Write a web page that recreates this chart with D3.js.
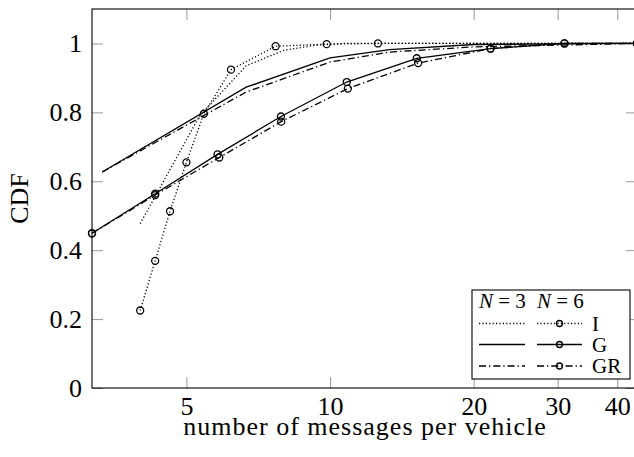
<!DOCTYPE html>
<html>
<head>
<meta charset="utf-8">
<script src="https://cdn.jsdelivr.net/npm/d3@7"></script>
<style>
  body { margin: 0; background: #fff; }
  svg text { font-family: "Liberation Serif", "Times New Roman", serif; fill: #000; }
</style>
</head>
<body>
<div id="vis"></div>
<script>
// ticks
const xTicks = [5, 10, 20, 30, 40];
const yTicks = [0, 0.2, 0.4, 0.6, 0.8, 1];

// N = 3, no markers
const xI3 = [4.0, 5.33, 6.67, 8.0, 9.33, 10.67, 44];
const yI3 = [0.477, 0.79, 0.935, 0.98, 0.995, 1.0, 1.0];
const xG3 = [3.33, 6.67, 10, 13.33, 20, 44];
const yG3 = [0.627, 0.873, 0.958, 0.982, 0.997, 1.0];
const xGR3 = [3.33, 6.67, 10, 13.33, 20, 44];
const yGR3 = [0.627, 0.859, 0.946, 0.975, 0.99, 1.0];

// N = 6, circle markers
const xI6 = [4.0, 4.3, 4.62, 5.0, 5.44, 6.2, 7.69, 9.84, 12.6, 44];
const yI6 = [0.225, 0.369, 0.513, 0.655, 0.796, 0.924, 0.992, 0.998, 1.0, 1.0];
const xG6 = [3.17, 4.3, 5.81, 7.89, 10.84, 15.2, 21.7, 31, 44];
const yG6 = [0.449, 0.564, 0.678, 0.788, 0.888, 0.957, 0.985, 1.0, 1.0];
const xGR6 = [3.17, 4.3, 5.86, 7.9, 10.9, 15.3, 21.7, 31, 44];
const yGR6 = [0.449, 0.56, 0.669, 0.773, 0.869, 0.943, 0.985, 1.0, 1.0];

const legendNames = ["I", "G", "GR"];

const width = 634;
const height = 457;

const svg = d3.select("#vis")
    .append('svg')
    .attr("width", width)
    .attr("height", height);

const pLeft = 92, pRight = 637, pTop = 9, pBottom = 388;

let x = d3.scaleLog()
    .domain([3.17, 44])
    .range([pLeft, pRight]);

let y = d3.scaleLinear()
    .domain([0, 1.1])
    .range([pBottom, pTop]);

// dash styles per method
const dashes = {
    "I": "1.2,2.2",
    "G": null,
    "GR": "7,3,1.3,3"
};

// tick marks (inside, on all four sides)
const tickColor = "#999";
const tickLen = 11;

const axB = svg.append('g')
    .attr("transform", `translate(0,${pBottom})`)
    .call(d3.axisBottom(x).tickValues(xTicks).tickFormat(d3.format("d")).tickSize(-tickLen).tickPadding(8.5));
const axT = svg.append('g')
    .attr("transform", `translate(0,${pTop})`)
    .call(d3.axisTop(x).tickValues(xTicks).tickFormat("").tickSize(-tickLen));
const axL = svg.append('g')
    .attr("transform", `translate(${pLeft},0)`)
    .call(d3.axisLeft(y).tickValues(yTicks).tickFormat(d3.format("")).tickSize(-tickLen).tickPadding(10));
const axR = svg.append('g')
    .attr("transform", `translate(${pRight},0)`)
    .call(d3.axisRight(y).tickValues(yTicks).tickFormat("").tickSize(-tickLen));

[axB, axT, axL, axR].forEach(a => {
    a.attr("font-family", null).attr("font-size", null);
    a.select(".domain").remove();
    a.selectAll(".tick line").attr("stroke", tickColor).attr("stroke-width", 1);
    a.selectAll(".tick text")
        .style("font-family", "'Liberation Serif', serif")
        .style("font-size", "26px")
        .attr("fill", "#000");
});

// frame
svg.append('rect')
    .attr("x", pLeft)
    .attr("y", pTop)
    .attr("width", pRight - pLeft)
    .attr("height", pBottom - pTop)
    .attr("fill", "none")
    .attr("stroke", "#000")
    .attr("stroke-width", 1.1);

const line = d3.line()
    .x(d => x(d[0]))
    .y(d => y(d[1]));

const series = [
    { name: "I", xs: xI3, ys: yI3, marks: false },
    { name: "G", xs: xG3, ys: yG3, marks: false },
    { name: "GR", xs: xGR3, ys: yGR3, marks: false },
    { name: "I", xs: xI6, ys: yI6, marks: true },
    { name: "G", xs: xG6, ys: yG6, marks: true },
    { name: "GR", xs: xGR6, ys: yGR6, marks: true }
];

const plot = svg.append('g').attr('class', 'lines');

series.forEach(s => {
    const pts = s.xs.map((v, i) => [v, s.ys[i]]);
    plot.append("path")
        .datum(pts)
        .attr("d", line)
        .attr("fill", "none")
        .attr("stroke", "#000")
        .attr("stroke-width", 1.3)
        .attr("stroke-dasharray", dashes[s.name]);
    if (s.marks) {
        plot.selectAll(null)
            .data(pts)
            .enter()
            .append("circle")
            .attr("cx", d => x(d[0]))
            .attr("cy", d => y(d[1]))
            .attr("r", 3.5)
            .attr("fill", "none")
            .attr("stroke", "#000")
            .attr("stroke-width", 1.3);
    }
});

// axis labels
svg.append('text')
    .attr("x", (183 + 547) / 2)
    .attr("y", 435)
    .attr("text-anchor", "middle")
    .style("font-size", "26px")
    .style("letter-spacing", "1px")
    .text("number of messages per vehicle");

svg.append('text')
    .attr("transform", `translate(28,${(pTop + pBottom) / 2}) rotate(-90)`)
    .attr("text-anchor", "middle")
    .style("font-size", "26px")
    .text("CDF");

// legend
const lg = svg.append('g').attr('class', 'legend');

lg.append('rect')
    .attr("x", 472)
    .attr("y", 290)
    .attr("width", 158)
    .attr("height", 89)
    .attr("fill", "#fff")
    .attr("stroke", "#000")
    .attr("stroke-width", 1.1);

[["3", 479], ["6", 537]].forEach(h => {
    const t = lg.append('text')
        .attr("x", h[1])
        .attr("y", 308)
        .style("font-size", "21px");
    t.append('tspan').style("font-style", "italic").text("N");
    t.append('tspan').text(" = " + h[0]);
});

const rowY = [323.5, 344.5, 366];

legendNames.forEach((name, i) => {
    const ry = rowY[i];
    lg.append('line')
        .attr("x1", 479).attr("x2", 525)
        .attr("y1", ry).attr("y2", ry)
        .attr("stroke", "#000")
        .attr("stroke-width", 1.3)
        .attr("stroke-dasharray", dashes[name]);
    lg.append('line')
        .attr("x1", 537).attr("x2", 582)
        .attr("y1", ry).attr("y2", ry)
        .attr("stroke", "#000")
        .attr("stroke-width", 1.3)
        .attr("stroke-dasharray", dashes[name]);
    lg.append('circle')
        .attr("cx", 559.5)
        .attr("cy", ry)
        .attr("r", 3)
        .attr("fill", "none")
        .attr("stroke", "#000")
        .attr("stroke-width", 1.3);
    lg.append('text')
        .attr("x", 592)
        .attr("y", ry + 7)
        .style("font-size", "21px")
        .text(name);
});
</script>
</body>
</html>
